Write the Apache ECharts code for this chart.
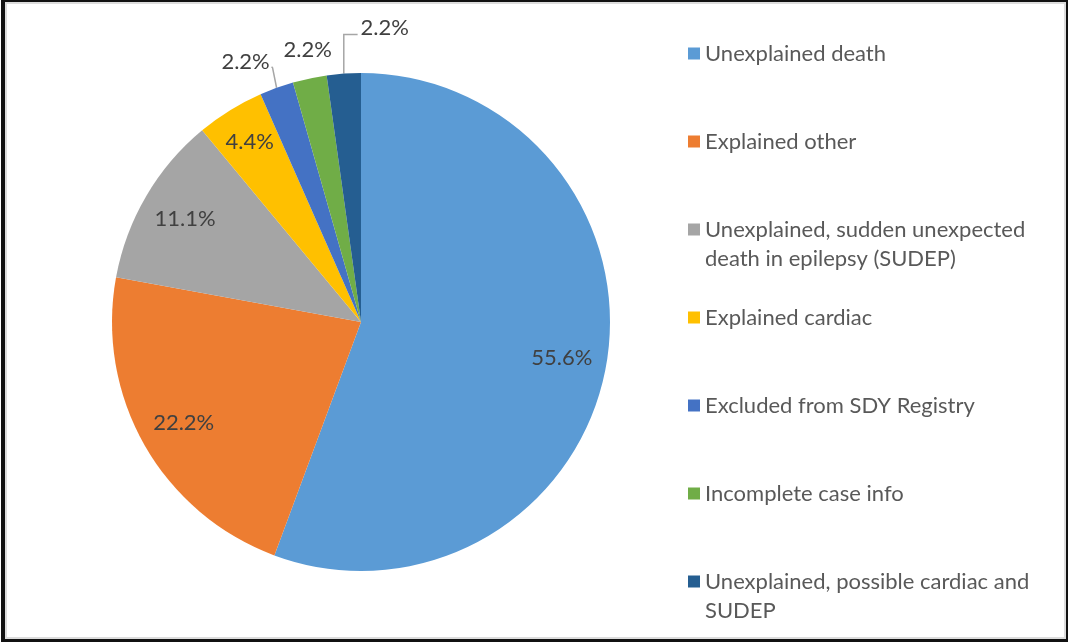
<!DOCTYPE html>
<html>
<head>
<meta charset="utf-8">
<script src="https://cdn.jsdelivr.net/npm/echarts@6/dist/echarts.min.js"></script>
<style>
  html, body { margin: 0; padding: 0; background: #fff; }
  #chart { position: absolute; left: 0; top: 0; width: 1068px; height: 642px; }
  #frame {
    position: absolute; left: 1px; top: 0; width: 1067px; height: 642px;
    box-sizing: border-box; pointer-events: none;
    border-style: solid; border-color: #111;
    border-width: 2px 2px 3px 4px;
    box-shadow: inset 0 0 0 2px #dcdcdc;
  }
</style>
</head>
<body>
<div id="chart"></div>
<div id="frame"></div>
<script>
// data
const categories = [
  'Unexplained death',
  'Explained other',
  'Unexplained, sudden unexpected\ndeath in epilepsy (SUDEP)',
  'Explained cardiac',
  'Excluded from SDY Registry',
  'Incomplete case info',
  'Unexplained, possible cardiac and\nSUDEP'
]
const percents = [55.6, 22.2, 11.1, 4.4, 2.2, 2.2, 2.2]
const colors = ['#5B9BD5', '#ED7D31', '#A5A5A5', '#FFC000', '#4472C4', '#70AD47', '#255E91']

const cx = 361
const cy = 322
const radius = 249
const fontFamily = 'Lato, "Noto Sans", sans-serif'

// where the small outside labels sit, relative to the rim point of their slice
const outsideShift = { 4: [-31, -26], 5: [-2, -28], 6: [41, -46] }

const chart = echarts.init(document.getElementById('chart'))

const pieData = categories.map(function (name, i) {
  const outside = outsideShift[i] != null
  return {
    name: name,
    value: percents[i],
    itemStyle: { color: colors[i] },
    label: { position: outside ? 'outside' : 'inside' },
    labelLine: { show: outside && i !== 5 }
  }
})

const option = {
  animation: false,
  legend: {
    orient: 'vertical',
    left: 688,
    top: 10,
    padding: 0,
    itemGap: 1,
    itemWidth: 12,
    itemHeight: 12,
    icon: 'rect',
    // pad every entry to three lines so the markers stay evenly spaced
    // and sit on the first line of the text
    formatter: function (name) {
      return name.indexOf('\n') >= 0 ? ' \n' + name : ' \n' + name + '\n '
    },
    textStyle: {
      color: '#595959',
      fontSize: 22,
      fontFamily: fontFamily,
      lineHeight: 29
    }
  },
  series: [{
    type: 'pie',
    center: [cx, cy],
    radius: radius,
    startAngle: 90,
    clockwise: true,
    data: pieData,
    label: {
      formatter: function (p) { return p.value.toFixed(1) + '%' },
      color: '#404040',
      fontSize: 22,
      fontFamily: fontFamily
    },
    labelLine: {
      length: 14,
      length2: 8,
      lineStyle: { color: '#A6A6A6', width: 1.5 }
    },
    labelLayout: function (params) {
      const i = params.dataIndex
      const r = params.labelRect
      if (outsideShift[i] == null) {
        // push inside labels out towards the rim
        const lx = r.x + r.width / 2
        const ly = r.y + r.height / 2
        const k = percents[i] < 6 ? 0.66 : 0.6
        return { dx: (lx - cx) * k, dy: (ly - cy) * k }
      }
      const rim = params.labelLinePoints ? params.labelLinePoints[0] : [r.x, r.y]
      const x = rim[0] + outsideShift[i][0]
      const y = rim[1] + outsideShift[i][1]
      let pts
      if (i === 6) {
        pts = [rim, [rim[0], y + 7], [x - r.width / 2 - 3, y + 7]]
      } else {
        pts = [rim, [rim[0] - 4, rim[1] - 20], [rim[0] - 5, rim[1] - 21]]
      }
      return { x: x, y: y, align: 'center', verticalAlign: 'middle', labelLinePoints: pts }
    }
  }]
}

chart.setOption(option)
</script>
</body>
</html>
